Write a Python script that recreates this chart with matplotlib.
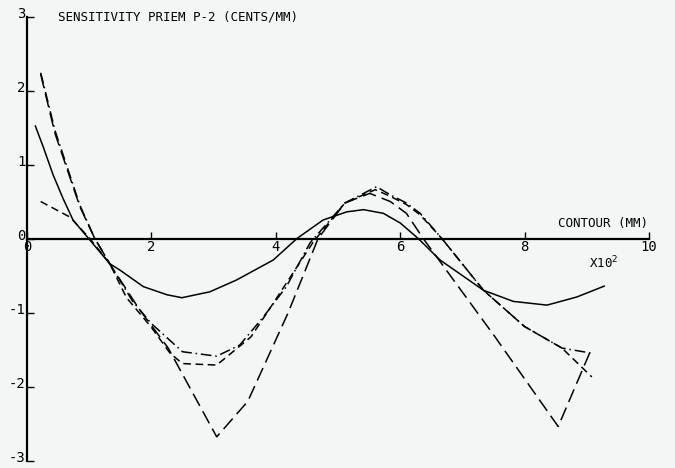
import matplotlib
matplotlib.use("Agg")
import matplotlib.pyplot as plt
import matplotlib.transforms as mtransforms

# Solid curve
x_solid = [0.13, 0.26, 0.42, 0.58, 0.74, 0.99, 1.33, 1.5, 1.87, 2.25, 2.49, 2.94, 3.37, 3.96, 4.34,
           4.76, 5.14, 5.41, 5.73, 6.0, 6.29, 6.64, 7.34, 7.82, 8.36, 8.84, 9.29]
y_solid = [1.53, 1.24, 0.86, 0.54, 0.25, 0.0, -0.34, -0.43, -0.65, -0.76, -0.80, -0.72, -0.56, -0.29, 0.0,
           0.25, 0.36, 0.39, 0.34, 0.21, 0.0, -0.29, -0.70, -0.85, -0.90, -0.79, -0.64]

# Long dashed curve
x_long = [0.22, 0.45, 0.85, 1.09, 1.33, 1.8, 2.27, 3.05, 3.55, 4.2, 4.68, 5.11, 5.51, 5.84, 6.1, 6.37,
          7.5, 8.54, 9.08]
y_long = [2.22, 1.42, 0.43, 0.0, -0.34, -0.95, -1.48, -2.68, -2.2, -1.0, 0.0, 0.48, 0.61, 0.5, 0.34, 0.0,
          -1.3, -2.54, -1.48]

# Dash-dot curve
x_dashdot = [0.22, 0.45, 0.85, 1.09, 1.33, 1.7, 2.0, 2.5, 3.05, 3.42, 3.8, 4.17, 4.55, 5.11, 5.62, 5.84,
             6.1, 6.32, 6.67, 7.34, 8.0, 8.6, 9.08]
y_dashdot = [2.24, 1.46, 0.45, 0.0, -0.34, -0.85, -1.15, -1.53, -1.59, -1.44, -1.06, -0.65, -0.06, 0.48,
             0.70, 0.59, 0.48, 0.34, 0.0, -0.70, -1.19, -1.48, -1.55]

# Short dashed curve
x_short = [0.22, 0.69, 1.01, 1.33, 1.6, 2.0, 2.3, 2.5, 3.05, 3.6, 3.9, 4.6, 5.11, 5.6, 5.84, 6.1, 6.32,
           6.67, 7.34, 8.0, 8.6, 9.08]
y_short = [0.50, 0.29, 0.0, -0.34, -0.8, -1.2, -1.55, -1.69, -1.71, -1.33, -0.95, -0.05, 0.48, 0.66,
           0.57, 0.46, 0.32, 0.0, -0.70, -1.19, -1.48, -1.87]

x_ticks = [0, 2, 4, 6, 8, 10]
y_ticks = [-3, -2, -1, 0, 1, 2, 3]

font = "DejaVu Sans Mono"
bg = "#f4f6f5"

fig = plt.figure(figsize=(6.75, 4.68), dpi=100, facecolor=bg)
ax = fig.add_axes([0, 0, 1, 1], facecolor=bg)

ax.plot(x_solid, y_solid, color="black", lw=1.1, solid_capstyle="butt")
ax.plot(x_long, y_long, color="black", lw=1.1, dashes=(9, 4))
ax.plot(x_dashdot, y_dashdot, color="black", lw=1.1, dashes=(7, 2.5, 1, 2.5))
ax.plot(x_short, y_short, color="black", lw=1.1, dashes=(5, 3))

ax.set_xlim(-0.434, 10.418)
ax.set_ylim(-3.101, 3.223)

for s in ["top", "right"]:
    ax.spines[s].set_visible(False)
ax.spines["left"].set_position(("data", 0))
ax.spines["bottom"].set_position(("data", 0))
ax.spines["left"].set_bounds(-3, 3)
ax.spines["bottom"].set_bounds(0, 10)
ax.spines["left"].set_linewidth(1.6)
ax.spines["bottom"].set_linewidth(1.6)

ax.set_xticks(x_ticks)
ax.set_xticklabels([str(v) for v in x_ticks], fontfamily=font, fontsize=10)
ax.set_yticks(y_ticks)
ax.set_yticklabels([str(v) for v in y_ticks], fontfamily=font, fontsize=10)
ax.tick_params(axis="x", direction="in", length=5, width=1, pad=1)
ax.tick_params(axis="y", direction="in", length=5, width=1, pad=1)

# nudge y labels slightly up like the plotter output
off = mtransforms.ScaledTranslation(0, 3 / 72, fig.dpi_scale_trans)
for lab in ax.get_yticklabels():
    lab.set_transform(lab.get_transform() + off)

ax.text(0.5, 3.0, "SENSITIVITY PRIEM P-2 (CENTS/MM)", fontfamily=font, fontsize=9,
        ha="left", va="center")
ax.text(9.98, 0.12, "CONTOUR (MM)", fontfamily=font, fontsize=9, ha="right", va="bottom")
ax.text(9.5, -0.33, "X10$^2$", fontfamily=font, fontsize=9, ha="right", va="center")

fig.savefig("out.png", dpi=100, facecolor=bg)
